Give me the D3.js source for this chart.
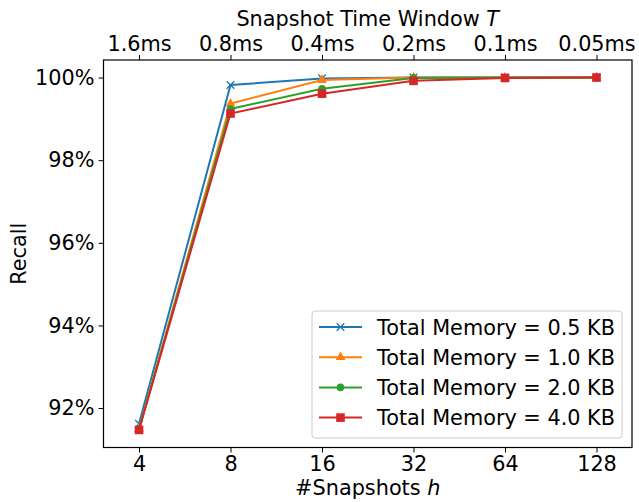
<!DOCTYPE html>
<html>
<head>
<meta charset="utf-8">
<script src="https://cdn.jsdelivr.net/npm/d3@7"></script>
<style>
  body { margin: 0; background: #fff; }
  text { font-family: "DejaVu Sans", sans-serif; }
</style>
</head>
<body>
<div id="chart"></div>
<script>
// Recall vs. number of snapshots, one line per memory budget

const snapshots = [4, 8, 16, 32, 64, 128];
const timeWindows = ["1.6ms", "0.8ms", "0.4ms", "0.2ms", "0.1ms", "0.05ms"];
const yTicks = [92, 94, 96, 98, 100];

const seriesNames = [
    "Total Memory = 0.5 KB",
    "Total Memory = 1.0 KB",
    "Total Memory = 2.0 KB",
    "Total Memory = 4.0 KB"
];
const recall05 = [91.62, 99.82, 99.98, 100.0, 100.0, 100.0];
const recall10 = [91.49, 99.37, 99.94, 100.0, 100.0, 100.0];
const recall20 = [91.48, 99.24, 99.73, 99.99, 100.0, 100.0];
const recall40 = [91.47, 99.13, 99.61, 99.92, 99.99, 100.0];

const colors = ["#1f77b4", "#ff7f0e", "#2ca02c", "#d62728"];
const markers = ["x", "triangle", "circle", "square"];

const W = 639, H = 502;
const FONT = "20.8px";
const plot = {left: 103.5, right: 632, top: 60, bottom: 447.5};

const svg = d3.select("#chart").append("svg")
    .attr("width", W)
    .attr("height", H);

// log2 x scale, with padding like matplotlib margins
const x = d3.scaleLog().base(2)
    .domain([Math.pow(2, 2 - 0.388), Math.pow(2, 7 + 0.388)])
    .range([plot.left, plot.right]);

const y = d3.scaleLinear()
    .domain([91.045, 100.425])
    .range([plot.bottom, plot.top]);

// bottom axis
const xAxis = svg.append("g")
    .attr("transform", `translate(0,${plot.bottom})`)
    .call(d3.axisBottom(x).tickValues(snapshots).tickFormat(d3.format("d")).tickSize(5).tickPadding(4));

// top axis
const xTop = svg.append("g")
    .attr("transform", `translate(0,${plot.top})`)
    .call(d3.axisTop(x).tickValues(snapshots).tickFormat((d, i) => timeWindows[i]).tickSize(5).tickPadding(4));

// left axis
const yAxis = svg.append("g")
    .attr("transform", `translate(${plot.left},0)`)
    .call(d3.axisLeft(y).tickValues(yTicks).tickFormat(d => d + "%").tickSize(5).tickPadding(4));

[xAxis, xTop, yAxis].forEach(g => {
    g.select(".domain").remove();
    g.selectAll(".tick line").attr("stroke", "#000").attr("stroke-width", 1);
    g.selectAll(".tick text")
        .attr("fill", "#000")
        .style("font-size", FONT);
});

// frame
svg.append("rect")
    .attr("x", plot.left)
    .attr("y", plot.top)
    .attr("width", plot.right - plot.left)
    .attr("height", plot.bottom - plot.top)
    .attr("fill", "none")
    .attr("stroke", "#000")
    .attr("stroke-width", 1.2);

// axis labels
svg.append("text")
    .attr("x", (plot.left + plot.right) / 2)
    .attr("y", 495)
    .attr("text-anchor", "middle")
    .style("font-size", FONT)
    .html('#Snapshots <tspan font-style="italic">h</tspan>');

svg.append("text")
    .attr("x", (plot.left + plot.right) / 2)
    .attr("y", 26)
    .attr("text-anchor", "middle")
    .style("font-size", FONT)
    .html('Snapshot Time Window <tspan font-style="italic">T</tspan>');

svg.append("text")
    .attr("transform", `translate(26,${(plot.top + plot.bottom) / 2}) rotate(-90)`)
    .attr("text-anchor", "middle")
    .style("font-size", FONT)
    .text("Recall");

// draw a marker of a given kind at (cx, cy)
function drawMarker(g, kind, cx, cy, color) {
    if (kind === "x") {
        const s = 3.8;
        g.append("path")
            .attr("d", `M${cx - s},${cy - s}L${cx + s},${cy + s}M${cx - s},${cy + s}L${cx + s},${cy - s}`)
            .attr("stroke", color)
            .attr("stroke-width", 1.3)
            .attr("fill", "none");
    } else if (kind === "triangle") {
        g.append("path")
            .attr("d", d3.symbol().type(d3.symbolTriangle).size(42)())
            .attr("transform", `translate(${cx},${cy})`)
            .attr("fill", color);
    } else if (kind === "circle") {
        g.append("circle")
            .attr("cx", cx).attr("cy", cy).attr("r", 3.8)
            .attr("fill", color);
    } else {
        g.append("rect")
            .attr("x", cx - 4.3).attr("y", cy - 4.3)
            .attr("width", 8.6).attr("height", 8.6)
            .attr("fill", color);
    }
}

const allSeries = [recall05, recall10, recall20, recall40];

const line = d3.line()
    .x((d, i) => x(snapshots[i]))
    .y(d => y(d));

allSeries.forEach((vals, k) => {
    const g = svg.append("g");
    g.append("path")
        .datum(vals)
        .attr("fill", "none")
        .attr("stroke", colors[k])
        .attr("stroke-width", 2)
        .attr("d", line);
    vals.forEach((v, i) => drawMarker(g, markers[k], x(snapshots[i]), y(v), colors[k]));
});

// legend
const legend = svg.append("g");
legend.append("rect")
    .attr("x", 312)
    .attr("y", 311)
    .attr("width", 310)
    .attr("height", 127)
    .attr("rx", 3)
    .attr("fill", "#fff")
    .attr("fill-opacity", 0.8)
    .attr("stroke", "#cccccc")
    .attr("stroke-width", 1);

seriesNames.forEach((name, k) => {
    const ly = 327 + k * 30.2;
    legend.append("line")
        .attr("x1", 319).attr("x2", 362)
        .attr("y1", ly).attr("y2", ly)
        .attr("stroke", colors[k])
        .attr("stroke-width", 2);
    drawMarker(legend, markers[k], 340.5, ly, colors[k]);
    legend.append("text")
        .attr("x", 377)
        .attr("y", ly + 7.5)
        .style("font-size", FONT)
        .text(name);
});
</script>
</body>
</html>
